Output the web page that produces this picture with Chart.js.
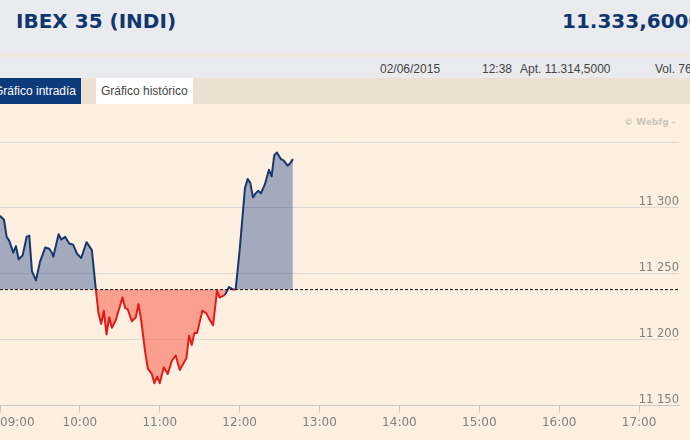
<!DOCTYPE html>
<html>
<head>
<meta charset="utf-8">
<script src="https://cdn.jsdelivr.net/npm/chart.js@4"></script>
<style>
  body { margin: 0; width: 690px; height: 440px; overflow: hidden; position: relative;
         background: #fdf0e1; font-family: "Liberation Sans", Arial, sans-serif; }
  .head { position: absolute; left: 0; top: 0; width: 690px; height: 53px; background: #e9ebee; }
  .sep { position: absolute; left: 0; top: 53px; width: 690px; height: 4px; background: #efe7df; }
  .info { position: absolute; left: 0; top: 57px; width: 690px; height: 21px; background: #e9eaed; }
  .tabs { position: absolute; left: 0; top: 78px; width: 690px; height: 26px; background: #ece0d3; }
  .title { position: absolute; top: 9px; font: bold 20px "DejaVu Sans", sans-serif; color: #0f3671; white-space: nowrap; }
  .txt { position: absolute; top: 62px; font-size: 12px; color: #444; white-space: nowrap; }
  .tab { position: absolute; top: 78px; height: 26px; line-height: 26px; font-size: 12px; padding: 0 5px; white-space: nowrap; }
  .webfg { position: absolute; left: 624px; top: 117px; font: bold 9px "DejaVu Sans", sans-serif; color: #cbc6c0; }
  #wrap { position: absolute; left: -3px; top: 105px; width: 693px; height: 335px; }
</style>
</head>
<body>
<div class="head"></div>
<div class="sep"></div>
<div class="info"></div>
<div class="tabs"></div>
<div class="title" style="left:16px">IBEX 35 (INDI)</div>
<div class="title" style="left:562px">11.333,6000</div>
<div class="txt" style="left:380px">02/06/2015</div>
<div class="txt" style="left:482px">12:38</div>
<div class="txt" style="left:520px">Apt. 11.314,5000</div>
<div class="txt" style="left:655px">Vol. 76</div>
<div class="tab" style="left:-11px; background:#0d3a7a; color:#fff">Gráfico intradía</div>
<div class="tab" style="left:96px; background:#fff; color:#444">Gráfico histórico</div>
<div class="webfg">© Webfg -</div>
<div id="wrap"><canvas id="chart" width="693" height="335"></canvas></div>

<script>
// Intraday quotes (time, index value)
const times = ['09:00', '09:03', '09:05', '09:07', '09:10', '09:12', '09:14', '09:17', '09:20', '09:22',
    '09:24', '09:27', '09:30', '09:34', '09:37', '09:39', '09:40', '09:44', '09:46', '09:49',
    '09:52', '09:55', '09:58', '10:01', '10:05', '10:09', '10:12', '10:14', '10:16', '10:18',
    '10:20', '10:22', '10:24', '10:27', '10:32', '10:34', '10:36', '10:39', '10:42', '10:44',
    '10:46', '10:49', '10:51', '10:54', '10:56', '10:58', '11:00', '11:03', '11:06', '11:09',
    '11:12', '11:15', '11:20', '11:22', '11:24', '11:26', '11:28', '11:32', '11:35', '11:37',
    '11:40', '11:43', '11:45', '11:49', '11:52', '11:55', '11:57', '12:00', '12:04', '12:06',
    '12:08', '12:10', '12:12', '12:14', '12:16', '12:19', '12:22', '12:24', '12:26', '12:28',
    '12:31', '12:33', '12:36', '12:38', '12:40'];
const values = [11294, 11291, 11278, 11275, 11266, 11271, 11261, 11264, 11278, 11279,
    11252, 11245, 11259, 11270, 11269, 11266, 11263, 11280, 11276, 11278,
    11273, 11272, 11265, 11262, 11274, 11268, 11238, 11220, 11212, 11222,
    11204, 11217, 11209, 11215, 11232, 11224, 11223, 11214, 11217, 11227,
    11215, 11191, 11178, 11174, 11167, 11172, 11167, 11179, 11174, 11184,
    11188, 11177, 11186, 11203, 11196, 11205, 11205, 11222, 11220, 11216,
    11211, 11237, 11232, 11234, 11240, 11238, 11238, 11268, 11315, 11322,
    11319, 11308, 11311, 11313, 11311, 11318, 11329, 11324, 11340, 11342,
    11337, 11336, 11332, 11334, 11337];

// Previous close (dashed reference line)
const prevClose = 11238;

// Axis ticks
const xTicks = ['09:00', '10:00', '11:00', '12:00', '13:00', '14:00', '15:00', '16:00', '17:00', '17:30'];
const yTicks = [11150, 11200, 11250, 11300, 11350];

const toMin = t => { const p = t.split(':'); return +p[0] * 60 + +p[1]; };
const fmtTime = m => String(Math.floor(m / 60)).padStart(2, '0') + ':' + String(m % 60).padStart(2, '0');
const fmtNum = v => Math.floor(v / 1000) + ' ' + String(v % 1000).padStart(3, '0');

const xMin = toMin(xTicks[0]);
const xMax = toMin(xTicks[xTicks.length - 1]);

const BLUE = '#17386e';
const RED = '#e31b17';

Chart.defaults.font.family = 'DejaVu Sans';

const ctx = document.getElementById('chart').getContext('2d');
const chart = new Chart(ctx, {
    type: 'line',
    data: {
        datasets: [{
            data: [{ x: xMin, y: prevClose }, { x: xMax, y: prevClose }],
            borderColor: '#111',
            borderWidth: 1,
            borderDash: [3, 2],
            pointRadius: 0,
            fill: false,
            order: 0,
        }, {
            data: times.map((t, i) => ({ x: toMin(t), y: values[i] })),
            borderWidth: 2,
            borderJoinStyle: 'round',
            pointRadius: 0,
            tension: 0,
            borderColor: BLUE,
            segment: {
                borderColor: c => (c.p0.parsed.y > prevClose || c.p1.parsed.y > prevClose) ? BLUE : RED,
            },
            fill: {
                value: prevClose,
                above: 'rgba(40, 75, 140, 0.42)',
                below: 'rgba(250, 100, 85, 0.58)',
            },
            order: 1,
        }]
    },
    options: {
        responsive: false,
        animation: false,
        layout: { padding: { top: 37, right: 11, bottom: 7, left: 0 } },
        scales: {
            x: {
                type: 'linear',
                min: xMin,
                max: xMax,
                afterBuildTicks: s => { s.ticks = xTicks.map(t => ({ value: toMin(t) })); },
                grid: {
                    drawOnChartArea: false,
                    tickLength: 7,
                    tickColor: c => (c.tick && c.tick.value === xMax) ? 'rgba(0,0,0,0)' : '#c8c8c8',
                },
                border: { color: '#c8c8c8' },
                ticks: {
                    autoSkip: false,
                    maxRotation: 0,
                    align: 'inner',
                    padding: 3,
                    color: '#808080',
                    font: { size: 12 },
                    callback: v => v === xMax ? '' : fmtTime(v),
                },
            },
            y: {
                position: 'right',
                min: yTicks[0],
                max: yTicks[yTicks.length - 1],
                afterBuildTicks: s => { s.ticks = yTicks.map(v => ({ value: v })); },
                grid: { color: '#dddad5', drawTicks: false },
                border: { display: false },
                ticks: {
                    mirror: true,
                    padding: 0,
                    labelOffset: -6,
                    color: '#808080',
                    font: { size: 11.5 },
                    callback: v => v === yTicks[yTicks.length - 1] ? '' : fmtNum(v),
                },
            },
        },
        plugins: {
            legend: { display: false },
            tooltip: { enabled: false },
        },
    },
});
</script>
</body>
</html>
